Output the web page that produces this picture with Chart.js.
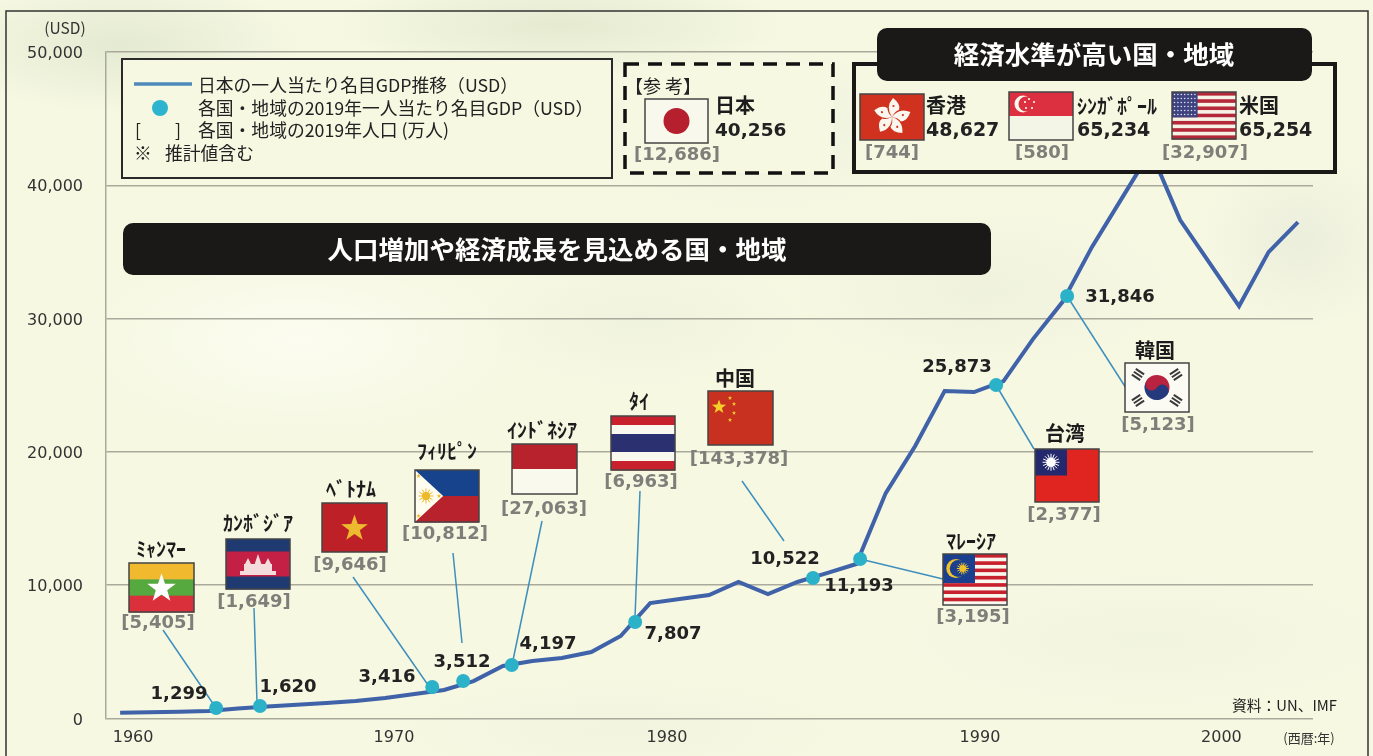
<!DOCTYPE html>
<html lang="ja">
<head>
<meta charset="utf-8">
<title>日本の一人当たり名目GDP推移</title>
<script src="https://cdn.jsdelivr.net/npm/chart.js@4"></script>
<style>
  html, body { margin: 0; padding: 0; width: 1373px; height: 756px; overflow: hidden; }
  body {
    background-color: #f6f8e2;
    background-image:
      radial-gradient(ellipse 240px 90px at 120px 45px, rgba(214,222,196,.55), transparent 75%),
      radial-gradient(ellipse 300px 70px at 560px 25px, rgba(214,222,194,.55), transparent 75%),
      radial-gradient(ellipse 240px 110px at 760px 130px, rgba(222,228,208,.35), transparent 75%),
      radial-gradient(ellipse 130px 120px at 1300px 240px, rgba(222,226,212,.45), transparent 75%),
      radial-gradient(ellipse 260px 110px at 980px 290px, rgba(226,230,212,.35), transparent 75%),
      radial-gradient(ellipse 300px 130px at 300px 340px, rgba(255,255,248,.65), transparent 75%),
      radial-gradient(ellipse 220px 90px at 640px 320px, rgba(230,234,216,.40), transparent 75%),
      radial-gradient(ellipse 330px 90px at 1150px 640px, rgba(232,236,218,.35), transparent 75%),
      radial-gradient(ellipse 300px 70px at 620px 730px, rgba(230,234,212,.30), transparent 75%);
  }
  canvas { display: block; }
</style>
</head>
<body>
<canvas id="gdpChart" width="1373" height="756"></canvas>
<script>
// ================================
// DATA
// ================================
const years = [1960, 1961, 1962, 1963, 1964, 1965, 1966, 1967, 1968, 1969,
  1970, 1971, 1972, 1973, 1974, 1975, 1976, 1977, 1978, 1979,
  1980, 1981, 1982, 1983, 1984, 1985, 1986, 1987, 1988, 1989,
  1990, 1991, 1992, 1993, 1994, 1995, 1996, 1997, 1998, 1999, 2000];
const japanGdp = [435, 465, 510, 560, 750, 900, 1030, 1160, 1310, 1540,
  1840, 2140, 2810, 3940, 4310, 4540, 4990, 6190, 8660, 8960,
  9260, 10240, 9340, 10240, 10910, 11590, 16910, 20440, 24560, 24490,
  25310, 28460, 31240, 35360, 38960, 42560, 37390, 34160, 30940, 34990, 37240];

const dotYears = [1963.26, 1964.75, 1970.6, 1971.65, 1973.3, 1977.49, 1983.53, 1985.13, 1989.75, 1992.16];
const dotValues = [790, 940, 2360, 2810, 4010, 7240, 10540, 11960, 25010, 31690];
const dotLabels = ["1,299", "1,620", "3,416", "3,512", "4,197", "7,807", "10,522", "11,193", "25,873", "31,846"];

const xTickLabels = ["1960", "1970", "1980", "1990", "2000"];
const yTicks = [0, 10000, 20000, 30000, 40000, 50000];

const countries = ["ﾐｬﾝﾏｰ", "ｶﾝﾎﾞｼﾞｱ", "ﾍﾞﾄﾅﾑ", "ﾌｨﾘﾋﾟﾝ", "ｲﾝﾄﾞﾈｼｱ", "ﾀｲ", "中国", "ﾏﾚｰｼｱ", "台湾", "韓国"];
const populations = ["[5,405]", "[1,649]", "[9,646]", "[10,812]", "[27,063]", "[6,963]", "[143,378]", "[3,195]", "[2,377]", "[5,123]"];

// ================================
// LAYOUT
// ================================
// the year labels of the original do not sit under their years
const xTickAt = [1960.44, 1969.3, 1978.57, 1989.2, 1997.4];

const FONT_JP = '"Noto Sans CJK JP"';
const FONT_NUM = '"DejaVu Sans"';
const LEADER = "#3f8fbd";
const PAPER = "#f6f8e2";

// flag x, y, w, h, name x/y, population x/y
const flagBoxes = [
  [129, 563, 65, 49, 161, 549, 158, 623],
  [226, 539, 64, 50, 258, 523, 254, 602],
  [322, 503, 65, 49, 351, 489, 350, 565],
  [415, 470, 64, 52, 447, 451, 445, 534],
  [512, 444, 65, 50, 542, 430, 544, 509],
  [611, 416, 64, 54, 639, 401, 641, 482],
  [708, 391, 65, 54, 735, 378, 739, 459],
  [943, 554, 64, 51, 971, 541, 973, 617],
  [1035, 449, 64, 53, 1065, 433, 1064, 515],
  [1125, 363, 64, 49, 1155, 350, 1158, 425]
];

// leader lines: start x/y, end x/y
const leaders = [
  [163, 630, 216, 708], [254, 608, 257, 702], [353, 577, 428, 685],
  [453, 553, 462, 643], [542, 521, 512, 665], [640, 491, 635, 617],
  [742, 481, 784, 541], [860, 559, 943, 579], [996, 385, 1034, 449],
  [1067, 296, 1126, 388]
];

const dotLabelAt = [
  [179, 694], [288, 687], [387, 677], [462, 662], [548, 644],
  [673, 634], [785, 559], [859, 586], [957, 367], [1120, 297]
];

// ================================
// DRAW HELPERS
// ================================
function text(c, str, x, y, font, color, align) {
  c.font = font;
  c.fillStyle = color;
  c.textAlign = align || "center";
  c.textBaseline = "middle";
  c.fillText(str, x, y);
}

function star(c, cx, cy, r, color) {
  c.fillStyle = color;
  c.beginPath();
  for (let i = 0; i < 10; i++) {
    const rad = i % 2 ? r * 0.4 : r;
    const a = -Math.PI / 2 + i * Math.PI / 5;
    c.lineTo(cx + rad * Math.cos(a), cy + rad * Math.sin(a));
  }
  c.closePath();
  c.fill();
}

function stripes(c, x, y, w, h, colors) {
  const sh = h / colors.length;
  colors.forEach((col, i) => {
    c.fillStyle = col;
    c.fillRect(x, y + i * sh, w, sh + 0.5);
  });
}

function disc(c, cx, cy, r, color) {
  c.fillStyle = color;
  c.beginPath();
  c.arc(cx, cy, r, 0, Math.PI * 2);
  c.fill();
}

function sun(c, cx, cy, r, color, rays) {
  c.strokeStyle = color;
  c.lineWidth = 1;
  for (let i = 0; i < rays; i++) {
    const a = i * 2 * Math.PI / rays;
    c.beginPath();
    c.moveTo(cx, cy);
    c.lineTo(cx + r * Math.cos(a), cy + r * Math.sin(a));
    c.stroke();
  }
  disc(c, cx, cy, r * 0.55, color);
}

function frame(c, x, y, w, h) {
  c.strokeStyle = "#444";
  c.lineWidth = 1.5;
  c.strokeRect(x, y, w, h);
}

// ================================
// FLAGS
// ================================
const flags = {
  myanmar(c, x, y, w, h) {
    stripes(c, x, y, w, h, ["#f0b92e", "#55a93e", "#d9303c"]);
    star(c, x + w / 2, y + h / 2 + 1, 15, "#fff");
  },
  cambodia(c, x, y, w, h) {
    stripes(c, x, y, w, h, ["#1f3a70", "#c41f45", "#c41f45", "#1f3a70"]);
    const cx = x + w / 2, by = y + h * 0.72;
    c.fillStyle = "#f5dcdc";
    c.fillRect(cx - 18, by - 4, 36, 4);
    c.fillRect(cx - 14, by - 11, 28, 7);
    [-10, 0, 10].forEach((o, i) => {
      c.beginPath();
      c.moveTo(cx + o - 4, by - 9);
      c.lineTo(cx + o, by - (i === 1 ? 21 : 17));
      c.lineTo(cx + o + 4, by - 9);
      c.fill();
    });
  },
  vietnam(c, x, y, w, h) {
    c.fillStyle = "#bd2027";
    c.fillRect(x, y, w, h);
    star(c, x + w / 2, y + h / 2 + 1, 14, "#edb92e");
  },
  philippines(c, x, y, w, h) {
    stripes(c, x, y, w, h, ["#17428c", "#b8222c"]);
    c.fillStyle = "#fffdf0";
    c.beginPath();
    c.moveTo(x, y);
    c.lineTo(x + w * 0.44, y + h / 2);
    c.lineTo(x, y + h);
    c.fill();
    sun(c, x + 11, y + h / 2, 7.5, "#eeb92c", 12);
    star(c, x + 3.5, y + 6, 2.5, "#eeb92c");
    star(c, x + 3.5, y + h - 6, 2.5, "#eeb92c");
    star(c, x + 24, y + h / 2, 2.5, "#eeb92c");
  },
  indonesia(c, x, y, w, h) {
    stripes(c, x, y, w, h, ["#b8222c", "#f9f9ee"]);
  },
  thailand(c, x, y, w, h) {
    stripes(c, x, y, w, h, ["#c8202c", "#f8f8ee", "#2b3070", "#2b3070", "#f8f8ee", "#c8202c"]);
  },
  china(c, x, y, w, h) {
    c.fillStyle = "#c8301f";
    c.fillRect(x, y, w, h);
    star(c, x + 11, y + 16, 7.5, "#f3cf2a");
    [[22, 7], [26, 13], [26, 22], [22, 29]].forEach(p => star(c, x + p[0], y + p[1], 2.2, "#f3cf2a"));
  },
  malaysia(c, x, y, w, h) {
    const cols = [];
    for (let i = 0; i < 14; i++) cols.push(i % 2 ? "#f8f8ee" : "#c8202c");
    stripes(c, x, y, w, h, cols);
    c.fillStyle = "#1a3f8e";
    c.fillRect(x, y, w / 2, h * 0.57);
    const cy = y + h * 0.285, cx = x + w * 0.2;
    disc(c, cx, cy, 9.5, "#f0c22c");
    disc(c, cx + 2.5, cy, 8.5, "#1a3f8e");
    sun(c, x + w * 0.31, cy, 6, "#f0c22c", 14);
  },
  taiwan(c, x, y, w, h) {
    c.fillStyle = "#e0241f";
    c.fillRect(x, y, w, h);
    c.fillStyle = "#24296e";
    c.fillRect(x, y, w / 2, h / 2);
    sun(c, x + w / 4, y + h / 4, 8.5, "#fff", 16);
  },
  korea(c, x, y, w, h) {
    c.fillStyle = "#fbfbf3";
    c.fillRect(x, y, w, h);
    const cx = x + w / 2, cy = y + h / 2, r = 12.5;
    c.save();
    c.translate(cx, cy);
    c.rotate(0.55);
    c.fillStyle = "#b8233f";
    c.beginPath(); c.arc(0, 0, r, Math.PI, 0); c.fill();
    c.fillStyle = "#253a7c";
    c.beginPath(); c.arc(0, 0, r, 0, Math.PI); c.fill();
    disc(c, -r / 2, 0, r / 2, "#b8233f");
    disc(c, r / 2, 0, r / 2, "#253a7c");
    c.restore();
    [[-19, -13, -0.98], [19, -13, 0.98], [-19, 13, 0.98], [19, 13, -0.98]].forEach(t => {
      c.save();
      c.translate(cx + t[0], cy + t[1]);
      c.rotate(t[2]);
      c.fillStyle = "#3a3a3a";
      [-3.5, 0, 3.5].forEach(d => c.fillRect(d - 1, -5, 2, 10));
      c.restore();
    });
  },
  japan(c, x, y, w, h) {
    c.fillStyle = "#f8f8ec";
    c.fillRect(x, y, w, h);
    disc(c, x + w / 2, y + h / 2, 13, "#b51f2e");
  },
  hongkong(c, x, y, w, h) {
    c.fillStyle = "#d1321f";
    c.fillRect(x, y, w, h);
    const cx = x + w / 2, cy = y + h / 2;
    for (let i = 0; i < 5; i++) {
      c.save();
      c.translate(cx, cy);
      c.rotate(i * 2 * Math.PI / 5);
      c.fillStyle = "#fbf7ee";
      c.beginPath();
      c.moveTo(0, 0);
      c.quadraticCurveTo(-7, -10, 1, -19);
      c.quadraticCurveTo(9, -13, 7, -7);
      c.quadraticCurveTo(3, -6, 0, 0);
      c.fill();
      disc(c, 1.5, -11, 1.1, "#d1321f");
      c.restore();
    }
  },
  singapore(c, x, y, w, h) {
    stripes(c, x, y, w, h, ["#dc3040", "#f3f5e6"]);
    disc(c, x + 14, y + 12, 8.5, "#f8f8ee");
    disc(c, x + 17, y + 12, 7.5, "#dc3040");
    [[20, 7], [25, 10], [23, 16], [17, 16], [16, 10]].forEach(p => disc(c, x + p[0], y + p[1], 1.1, "#f8f8ee"));
  },
  usa(c, x, y, w, h) {
    const cols = [];
    for (let i = 0; i < 13; i++) cols.push(i % 2 ? "#f6f2e6" : "#b4283a");
    stripes(c, x, y, w, h, cols);
    c.fillStyle = "#3e4380";
    c.fillRect(x, y, w * 0.4, h * 0.54);
    for (let r = 0; r < 6; r++) {
      for (let k = 0; k < 7; k++) {
        disc(c, x + 2.5 + k * 3.4, y + 2.5 + r * 4, 0.8, "#dfe0ee");
      }
    }
  }
};

const flagOrder = ["myanmar", "cambodia", "vietnam", "philippines", "indonesia", "thailand", "china", "malaysia", "taiwan", "korea"];

function drawFlag(c, key, x, y, w, h) {
  flags[key](c, x, y, w, h);
  frame(c, x, y, w, h);
}

function pill(c, x, y, w, h, label, cx) {
  c.fillStyle = "#1b1918";
  c.beginPath();
  c.roundRect(x, y, w, h, 10);
  c.fill();
  text(c, label, cx, y + h / 2, "bold 25.5px " + FONT_JP, "#fff");
}

// ================================
// DECORATION PLUGIN
// ================================
const frameBorder = {
  id: "frameBorder",
  beforeDraw(chart) {
    const c = chart.ctx;
    c.save();
    c.strokeStyle = "#333";
    c.lineWidth = 1.5;
    c.beginPath();
    c.moveTo(6, 760);
    c.lineTo(6, 11);
    c.lineTo(1368, 11);
    c.lineTo(1368, 760);
    c.stroke();
    c.restore();
  }
};

const leaderLines = {
  id: "leaderLines",
  beforeDatasetsDraw(chart) {
    const c = chart.ctx;
    c.save();
    c.strokeStyle = LEADER;
    c.lineWidth = 1.5;
    leaders.forEach(l => {
      c.beginPath();
      c.moveTo(l[0], l[1]);
      c.lineTo(l[2], l[3]);
      c.stroke();
    });
    c.restore();
  }
};

const annotations = {
  id: "annotations",
  afterDatasetsDraw(chart) {
    const c = chart.ctx;
    c.save();

    text(c, "(USD)", 65, 28, "15.5px " + FONT_JP, "#333");
    text(c, "(西暦:年)", 1309, 738, "13px " + FONT_JP, "#333");
    text(c, "資料：UN、IMF", 1337, 705, "14.8px " + FONT_JP, "#222", "right");

    // value labels of the dots
    dotLabels.forEach((lab, i) => {
      text(c, lab, dotLabelAt[i][0], dotLabelAt[i][1], "bold 18px " + FONT_NUM, "#222");
    });

    // countries with a flag
    countries.forEach((name, i) => {
      const b = flagBoxes[i];
      drawFlag(c, flagOrder[i], b[0], b[1], b[2], b[3]);
      text(c, name, b[4], b[5], "bold 20px " + FONT_JP, "#1c1c1c");
      text(c, populations[i], b[6], b[7], "bold 18px " + FONT_NUM, "#7f7f7a");
    });

    // legend box
    c.fillStyle = PAPER;
    c.fillRect(122, 59, 490, 119);
    c.strokeStyle = "#2a2a2a";
    c.lineWidth = 2;
    c.strokeRect(122, 59, 490, 119);
    c.strokeStyle = "#4f8abb";
    c.lineWidth = 3.5;
    c.beginPath();
    c.moveTo(134, 84);
    c.lineTo(192, 84);
    c.stroke();
    disc(c, 160, 108, 8, "#2fb4cf");
    const lf = "17.8px " + FONT_JP;
    text(c, "日本の一人当たり名目GDP推移（USD）", 198, 85, lf, "#222", "left");
    text(c, "各国・地域の2019年一人当たり名目GDP（USD）", 198, 108, lf, "#222", "left");
    text(c, "[", 138, 130, lf, "#222");
    text(c, "]", 178, 130, lf, "#222");
    text(c, "各国・地域の2019年人口 (万人)", 198, 130, lf, "#222", "left");
    text(c, "※", 143, 153, lf, "#222");
    text(c, "推計値含む", 165, 153, lf, "#222", "left");

    // reference box, Japan
    c.fillStyle = PAPER;
    c.fillRect(625, 64, 208, 109);
    c.strokeStyle = "#111";
    c.lineWidth = 3.5;
    c.setLineDash([14, 9]);
    c.strokeRect(625, 64, 208, 109);
    c.setLineDash([]);
    text(c, "【参 考】", 663, 86, "18px " + FONT_JP, "#222");
    drawFlag(c, "japan", 645, 99, 63, 44);
    text(c, "日本", 715, 105, "bold 20px " + FONT_JP, "#1c1c1c", "left");
    text(c, "40,256", 715, 131, "bold 18.5px " + FONT_NUM, "#222", "left");
    text(c, "[12,686]", 677, 155, "bold 18px " + FONT_NUM, "#7f7f7a");

    // high income box
    c.fillStyle = PAPER;
    c.fillRect(854, 64, 481, 108);
    c.strokeStyle = "#1b1918";
    c.lineWidth = 4;
    c.strokeRect(854, 64, 481, 108);
    pill(c, 877, 28, 435, 53, "経済水準が高い国・地域", 1094);
    drawFlag(c, "hongkong", 860, 94, 64, 46);
    text(c, "香港", 926, 105, "bold 20px " + FONT_JP, "#1c1c1c", "left");
    text(c, "48,627", 926, 131, "bold 19px " + FONT_NUM, "#222", "left");
    text(c, "[744]", 892, 153, "bold 18px " + FONT_NUM, "#7f7f7a");
    drawFlag(c, "singapore", 1009, 92, 64, 48);
    text(c, "ｼﾝｶﾞﾎﾟｰﾙ", 1077, 106, "bold 20px " + FONT_JP, "#1c1c1c", "left");
    text(c, "65,234", 1077, 131, "bold 19px " + FONT_NUM, "#222", "left");
    text(c, "[580]", 1042, 153, "bold 18px " + FONT_NUM, "#7f7f7a");
    drawFlag(c, "usa", 1172, 92, 64, 47);
    text(c, "米国", 1239, 105, "bold 20px " + FONT_JP, "#1c1c1c", "left");
    text(c, "65,254", 1239, 131, "bold 19px " + FONT_NUM, "#222", "left");
    text(c, "[32,907]", 1205, 153, "bold 18px " + FONT_NUM, "#7f7f7a");

    // growth banner
    pill(c, 123, 223, 868, 52, "人口増加や経済成長を見込める国・地域", 557);

    c.restore();
  }
};

// ================================
// CHART
// ================================
new Chart(document.getElementById("gdpChart"), {
  type: "line",
  data: {
    datasets: [
      {
        label: "各国・地域の2019年一人当たり名目GDP（USD）",
        data: dotYears.map((y, i) => ({ x: y, y: dotValues[i] })),
        showLine: false,
        pointRadius: 7,
        pointBackgroundColor: "#2cb2c8",
        pointBorderWidth: 0,
        order: 1
      },
      {
        label: "日本の一人当たり名目GDP推移（USD）",
        data: years.map((y, i) => ({ x: y, y: japanGdp[i] })),
        borderColor: "#3f62a9",
        borderWidth: 4,
        pointRadius: 0,
        tension: 0,
        order: 2
      }
    ]
  },
  options: {
    responsive: false,
    animation: false,
    clip: false,
    layout: { padding: { top: 52, right: 60, bottom: 0, left: 0 } },
    plugins: { legend: { display: false }, tooltip: { enabled: false } },
    scales: {
      x: {
        type: "linear",
        min: 1959.52,
        max: 2000.51,
        grid: { display: false },
        border: { display: false },
        afterFit: s => { s.height = 37.5; },
        afterBuildTicks: s => { s.ticks = xTickAt.map(v => ({ value: v })); },
        ticks: {
          autoSkip: false,
          maxRotation: 0,
          padding: 2,
          color: "#333",
          font: { family: "DejaVu Sans", size: 16 },
          callback: (v, i) => xTickLabels[i]
        }
      },
      y: {
        min: yTicks[0],
        max: yTicks[yTicks.length - 1],
        afterFit: s => { s.width = 106; },
        grid: { color: "#a9a99c", lineWidth: 1.5, drawTicks: false },
        border: { color: "#a9a99c", width: 1.5 },
        ticks: {
          stepSize: 10000,
          padding: 23,
          labelOffset: 2,
          color: "#333",
          font: { family: "DejaVu Sans", size: 16 },
          callback: v => v.toLocaleString("en-US")
        }
      }
    }
  },
  plugins: [frameBorder, leaderLines, annotations]
});
</script>
</body>
</html>
